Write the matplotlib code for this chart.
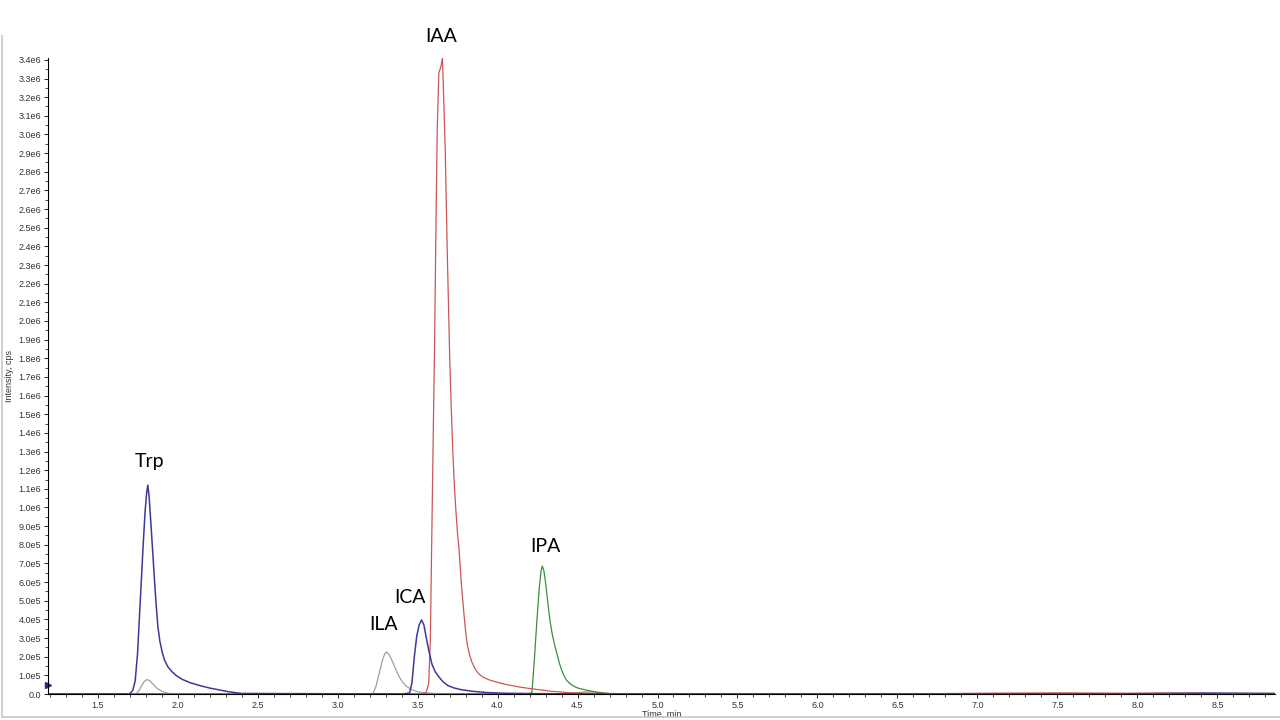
import matplotlib
matplotlib.use("Agg")
import matplotlib.pyplot as plt
from matplotlib.ticker import MultipleLocator, FuncFormatter
from matplotlib.lines import Line2D

# ---- data (time in min, intensity in 1e6 cps) ----
blue_t = [1.19, 1.70, 1.72, 1.735, 1.75, 1.762, 1.773, 1.785, 1.797, 1.807, 1.814, 1.822,
          1.832, 1.844, 1.855, 1.866, 1.877, 1.89, 1.905, 1.919, 1.94, 1.965, 1.99, 2.03,
          2.08, 2.14, 2.20, 2.26, 2.32, 2.40, 3.40, 3.45, 3.465, 3.48, 3.495, 3.51, 3.525,
          3.54, 3.555, 3.57, 3.59, 3.61, 3.635, 3.66, 3.69, 3.73, 3.78, 3.85, 3.93, 4.05,
          4.25, 4.6, 8.86]
blue_i = [0.0, 0.0, 0.02, 0.07, 0.22, 0.42, 0.60, 0.80, 0.98, 1.08, 1.12, 1.06,
          0.93, 0.77, 0.62, 0.48, 0.36, 0.28, 0.22, 0.18, 0.145, 0.12, 0.10, 0.078,
          0.06, 0.045, 0.032, 0.022, 0.012, 0.003, 0.0, 0.005, 0.06, 0.2, 0.31, 0.37, 0.397,
          0.37, 0.30, 0.235, 0.16, 0.12, 0.09, 0.065, 0.045, 0.032, 0.022, 0.014, 0.008, 0.004,
          0.002, 0.0, 0.0]

gray_t = [1.19, 1.74, 1.76, 1.775, 1.79, 1.80, 1.81, 1.82, 1.835, 1.85, 1.87, 1.90, 1.94, 2.0,
          3.22, 3.24, 3.26, 3.28, 3.295, 3.306, 3.32, 3.335, 3.35, 3.37, 3.39, 3.41, 3.43,
          3.46, 3.50, 3.55, 3.62, 4.45, 4.55, 4.65, 4.72, 8.86]
gray_i = [0.0, 0.0, 0.02, 0.045, 0.065, 0.073, 0.077, 0.074, 0.063, 0.05, 0.032, 0.015, 0.004,
          0.0, 0.0, 0.04, 0.11, 0.18, 0.215, 0.225, 0.215, 0.19, 0.16, 0.12, 0.085, 0.06,
          0.042, 0.025, 0.012, 0.006, 0.002, 0.0, 0.012, 0.008, 0.0, 0.0]

red_t = [1.19, 3.53, 3.555, 3.57, 3.58, 3.59, 3.60, 3.606, 3.615, 3.623, 3.633, 3.645, 3.656,
         3.665, 3.673, 3.685, 3.70, 3.71, 3.72, 3.73, 3.74, 3.75, 3.76, 3.775, 3.79, 3.80,
         3.81, 3.825, 3.84, 3.86, 3.88, 3.91, 3.95, 4.01, 4.06, 4.12, 4.18, 4.25, 4.33, 4.45,
         4.60, 5.0, 6.5, 7.0, 7.5, 8.0, 8.5, 8.86]
red_i = [0.0, 0.0, 0.01, 0.06, 0.29, 0.9, 1.5, 1.84, 2.5, 3.02, 3.33, 3.36, 3.41,
         3.15, 2.92, 2.4, 1.84, 1.55, 1.31, 1.12, 0.98, 0.86, 0.77, 0.58, 0.43, 0.34,
         0.27, 0.21, 0.17, 0.135, 0.11, 0.09, 0.075, 0.06, 0.05, 0.04, 0.032, 0.024, 0.015,
         0.007, 0.003, 0.001, 0.0, 0.004, 0.006, 0.004, 0.002, 0.0]

green_t = [1.19, 4.20, 4.215, 4.23, 4.245, 4.26, 4.272, 4.28, 4.29, 4.30, 4.312, 4.325, 4.34,
           4.355, 4.37, 4.385, 4.40, 4.415, 4.43, 4.45, 4.47, 4.49, 4.51, 4.56, 4.62, 4.68,
           4.75, 8.86]
green_i = [0.0, 0.0, 0.01, 0.18, 0.38, 0.56, 0.66, 0.686, 0.66, 0.60, 0.51, 0.41, 0.33,
           0.27, 0.22, 0.17, 0.13, 0.10, 0.075, 0.058, 0.045, 0.036, 0.03, 0.02, 0.01, 0.003,
           0.0, 0.0]

purple_t = [1.19, 7.8, 8.0, 8.2, 8.4, 8.6, 8.86]
purple_i = [0.0, 0.0, 0.003, 0.005, 0.006, 0.005, 0.004]

peak_names = ["Trp", "IAA", "IPA", "ICA", "ILA"]
label_t = [1.825, 3.65, 4.297, 3.45, 3.2875]
label_i = [1.249, 3.523, 0.79, 0.515, 0.37]

fig = plt.figure(figsize=(12.8, 7.2), dpi=100)
ax = fig.add_axes([48 / 1280, 1 - 694 / 720, (1275 - 48) / 1280, (694 - 58) / 720])

ax.plot(purple_t, [v * 1e6 for v in purple_i], color="#4b2a6e", lw=0.9)
ax.plot(gray_t, [v * 1e6 for v in gray_i], color="#a0a0a0", lw=0.9)
ax.plot(green_t, [v * 1e6 for v in green_i], color="#3a8f3a", lw=0.9)
ax.plot(red_t, [v * 1e6 for v in red_i], color="#cc5555", lw=0.9)
ax.plot(blue_t, [v * 1e6 for v in blue_i], color="#3a3a9a", lw=1.1)

ax.set_xlim(1.19, 8.86)
ax.set_ylim(0, 3.41e6)

ax.xaxis.set_major_locator(MultipleLocator(0.5))
ax.xaxis.set_minor_locator(MultipleLocator(0.1))
ax.yaxis.set_major_locator(MultipleLocator(1e5))
ax.yaxis.set_minor_locator(MultipleLocator(5e4))


def yfmt(v, pos):
    if v < 1:
        return "0.0"
    if v < 9.5e5:
        return f"{v / 1e5:.1f}e5"
    return f"{v / 1e6:.1f}e6"


ax.yaxis.set_major_formatter(FuncFormatter(yfmt))
ax.xaxis.set_major_formatter(FuncFormatter(lambda v, p: f"{v:.1f}"))

for s in ["top", "right"]:
    ax.spines[s].set_visible(False)
ax.spines["left"].set_linewidth(0.8)
ax.spines["bottom"].set_linewidth(0.8)

ax.tick_params(axis="both", which="major", length=3, width=0.6, labelsize=6.5,
               labelcolor="#333333", pad=2)
ax.tick_params(axis="both", which="minor", length=2, width=0.5)
for lab in ax.get_xticklabels() + ax.get_yticklabels():
    lab.set_family("Liberation Sans")

ax.set_ylabel("Intensity, cps", fontsize=6.5, family="Liberation Sans", color="#333333",
              labelpad=3)
ax.set_xlabel("Time, min", fontsize=6.5, family="Liberation Sans", color="#333333",
              labelpad=0)

# marker on the y axis
ax.plot([1.19], [0.05e6], marker=">", color="#2a2a8a", ms=4, clip_on=False)

for name, tx, ty in zip(peak_names, label_t, label_i):
    ax.text(tx, ty * 1e6, name, ha="center", va="center", fontsize=14,
            family="Lato", color="black", clip_on=False)

# window frame
fig.add_artist(Line2D([2 / 1280, 2 / 1280], [1 - 717 / 720, 1 - 36 / 720],
                      color="#c8c8c8", lw=1.2))
fig.add_artist(Line2D([2 / 1280, 1], [1 - 717 / 720, 1 - 717 / 720],
                      color="#c8c8c8", lw=1.2))

fig.savefig("out.png", dpi=100)
